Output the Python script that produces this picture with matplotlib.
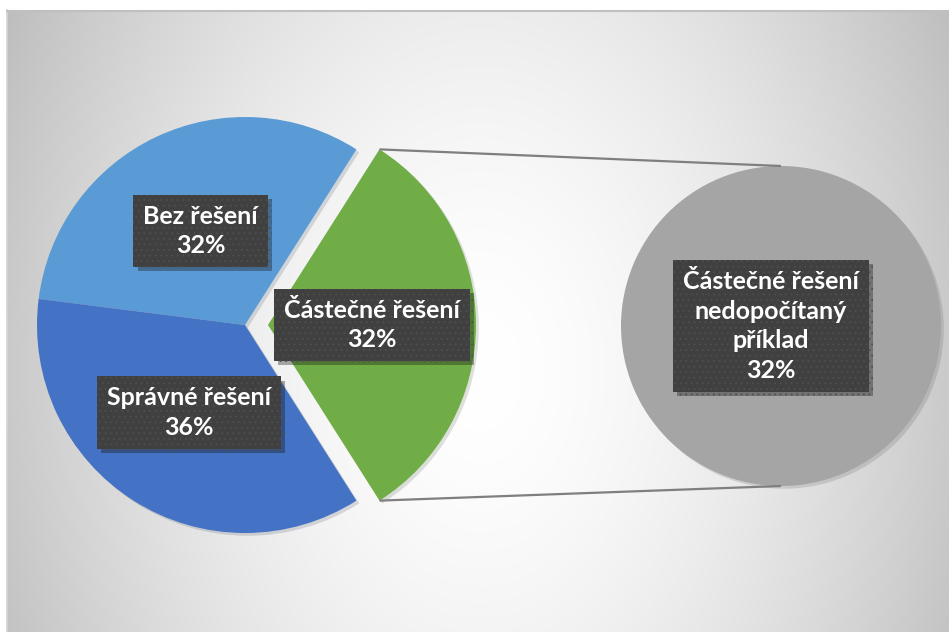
import numpy as np
import matplotlib.pyplot as plt
from matplotlib import patheffects as pe

plt.rcParams['font.family'] = ['Lato', 'DejaVu Sans']
plt.rcParams['hatch.linewidth'] = 0.6

# data
kategorie = ['Částečné řešení', 'Bez řešení', 'Správné řešení']
podil = [32, 32, 36]
barvy = ['#70AD47', '#5B9BD5', '#4472C4']
druhy_kategorie = ['Částečné řešení\nnedopočítaný\npříklad']
druhy_podil = [32]
druhy_barvy = ['#A5A5A5']

W, H = 949, 632
fig = plt.figure(figsize=(W / 100, H / 100), dpi=100)

# pozadi - radialni prechod
bg = fig.add_axes([0, 0, 1, 1])
yy, xx = np.mgrid[0:H, 0:W]
d = np.sqrt(((xx - 480) / 480.0) ** 2 + ((yy - 370) / 700.0) ** 2)
val = (255 - 55 * d ** 1.64) / 255.0
val = np.clip(val, 0, 1)
val[(xx < 7) | (yy < 10)] = 1.0
bg.imshow(np.dstack([val, val, val]), extent=(0, W, H, 0), aspect='auto')
bg.plot([7, 7], [H, 10], color='#d4d4d4', lw=1.2)
bg.plot([7, W], [10.5, 10.5], color='#c0c0c0', lw=1.5)
bg.set_xlim(0, W)
bg.set_ylim(H, 0)
bg.axis('off')

ax = fig.add_axes([0, 0, 1, 1])
ax.patch.set_alpha(0)

stin = [pe.SimplePatchShadow(offset=(2, -2), alpha=0.15), pe.Normal()]

# hlavni kolac (vysunuti je v jednotkach os)
c1 = (245, H - 325)
r1 = 208
w1, _ = ax.pie(podil, colors=barvy, startangle=-57.6, counterclock=True,
               center=c1, radius=r1, explode=[23, 0, 0],
               wedgeprops=dict(linewidth=0), frame=False)
for w in w1:
    w.set_path_effects(stin)

# druhy kolac
c2 = (781, H - 326)
r2 = 160
w2, _ = ax.pie(druhy_podil, colors=druhy_barvy, startangle=90,
               center=c2, radius=r2, wedgeprops=dict(linewidth=0), frame=False)
for w in w2:
    w.set_path_effects(stin)

# spojovaci cary
g = w1[0]
for th, sgn in [(g.theta2, 1), (g.theta1, -1)]:
    x0 = g.center[0] + g.r * np.cos(np.radians(th))
    y0 = g.center[1] + g.r * np.sin(np.radians(th))
    ax.plot([x0, c2[0]], [y0, c2[1] + sgn * r2], color='#7f7f7f', lw=1.6,
            solid_capstyle='butt')

box = dict(boxstyle='square,pad=0.4', fc='#404040', ec='#4f4f4f', lw=0,
           hatch='...')
box_fx = [pe.SimplePatchShadow(offset=(3, -3), alpha=0.35), pe.Normal()]


def popisek(x, y, s):
    t = ax.text(x, y, s, ha='center', va='center', ma='center', color='white',
                fontsize=18, fontweight='bold', linespacing=1.35, bbox=box)
    t.get_bbox_patch().set_path_effects(box_fx)


for w, nazev, p in zip(w1, kategorie, podil):
    mid = np.radians((w.theta1 + w.theta2) / 2)
    x = w.center[0] + 0.5 * w.r * np.cos(mid)
    y = w.center[1] + 0.5 * w.r * np.sin(mid)
    popisek(x, y, '%s\n%d%%' % (nazev, p))

popisek(c2[0] - 10, c2[1], '%s\n%d%%' % (druhy_kategorie[0], druhy_podil[0]))

ax.set_xlim(0, W)
ax.set_ylim(0, H)
ax.axis('off')

fig.savefig('out.png', dpi=100)
